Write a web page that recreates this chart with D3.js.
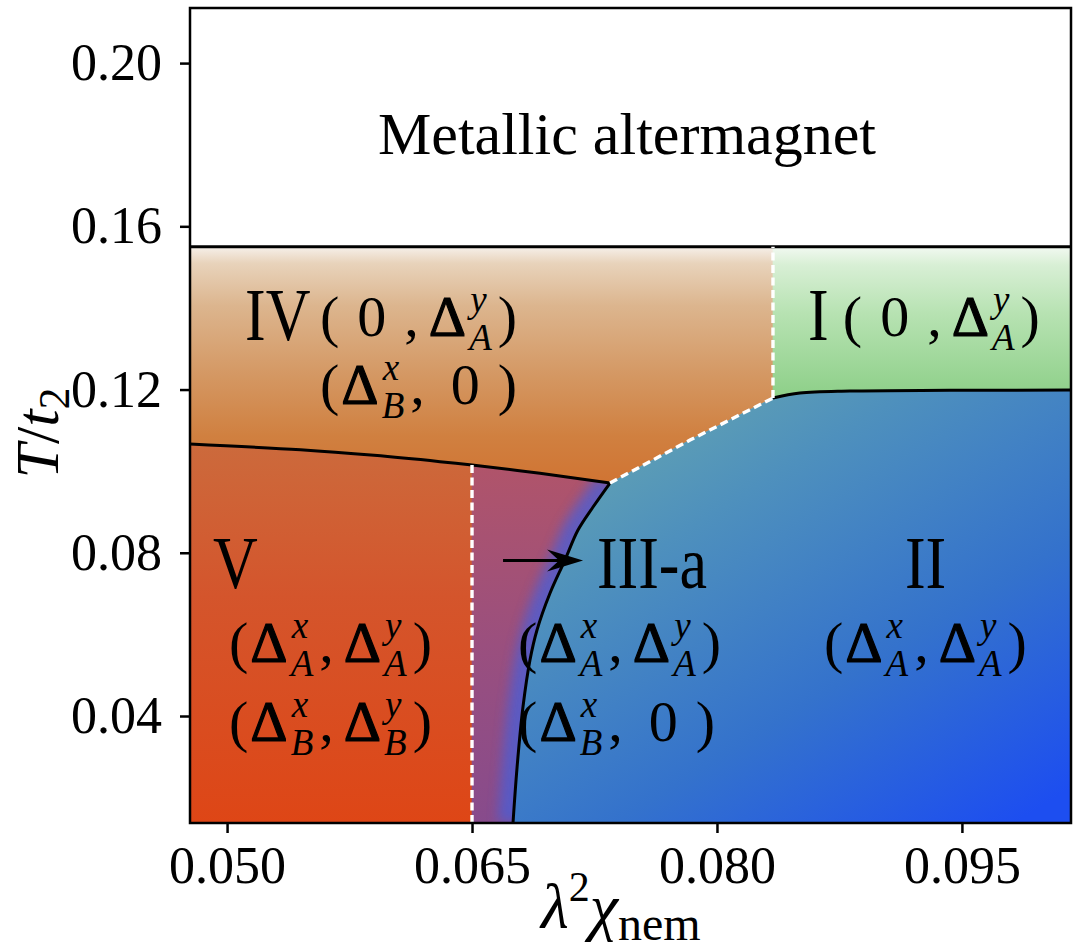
<!DOCTYPE html>
<html>
<head>
<meta charset="utf-8">
<script src="https://cdn.jsdelivr.net/npm/d3@7"></script>
<style>
  html, body { margin: 0; padding: 0; background: #fff; }
  svg { display: block; }
</style>
</head>
<body>
<div id="chart"></div>
<script>
/* ---- data ---- */
var xDomain = [0.04773, 0.10168];
var yDomain = [0.01378, 0.2135];
var xTicks = [0.050, 0.065, 0.080, 0.095];
var yTicks = [0.04, 0.08, 0.12, 0.16, 0.20];

// transition into the metallic altermagnet
var tcMetal = 0.155;
// IV | (V, III-a) boundary
var nemX = [0.04773, 0.0545, 0.0590, 0.06304, 0.065, 0.06916, 0.07345];
var nemT = [0.10665, 0.10524, 0.10387, 0.10233, 0.10149, 0.09948, 0.09709];
// III-a | II boundary
var curveX = [0.07345, 0.07241, 0.07149, 0.07069, 0.06978, 0.06898, 0.06855, 0.06812, 0.06776, 0.06751];
var curveT = [0.09709, 0.09121, 0.08557, 0.07822, 0.07014, 0.06107, 0.05372, 0.04220, 0.02750, 0.01378];
// IV | II boundary (dashed)
var diagX = [0.07345, 0.07835, 0.08343];
var diagT = [0.09709, 0.10762, 0.11792];
// I | II boundary
var upperX = [0.08343, 0.08508, 0.08814, 0.09427, 0.10168];
var upperT = [0.11792, 0.11915, 0.11963, 0.11980, 0.11988];
// vertical dashed boundaries
var splitV = 0.065;
var splitI = 0.08343;

var arrowFrom = [0.06690, 0.07810];
var arrowTo = [0.07180, 0.07810];

var topLabel = { x: 0.07449, T: 0.1777, text: 'Metallic altermagnet' };

var phaseLabels = [
  { x: 0.05110, T: 0.13213, text: 'IV' },
  { x: 0.05569, T: 0.13311, math: ['(', ' ', '0', ' ', ',', 'Δ', ['y', 'A'], ')'] },
  { x: 0.05569, T: 0.11645, math: ['(', 'Δ', ['x', 'B'], ',', ' ', '0', ' ', ')'] },
  { x: 0.08557, T: 0.13213, text: 'I' },
  { x: 0.08771, T: 0.13311, math: ['(', ' ', '0', ' ', ',', 'Δ', ['y', 'A'], ')'] },
  { x: 0.04914, T: 0.07136, text: 'V' },
  { x: 0.05012, T: 0.05323, math: ['(', 'Δ', ['x', 'A'], ',', 'Δ', ['y', 'A'], ')'] },
  { x: 0.05012, T: 0.03387, math: ['(', 'Δ', ['x', 'B'], ',', 'Δ', ['y', 'B'], ')'] },
  { x: 0.07265, T: 0.07136, text: 'III-a' },
  { x: 0.06782, T: 0.05323, math: ['(', 'Δ', ['x', 'A'], ',', 'Δ', ['y', 'A'], ')'] },
  { x: 0.06782, T: 0.03387, math: ['(', 'Δ', ['x', 'B'], ',', ' ', '0', ' ', ')'] },
  { x: 0.09151, T: 0.07136, text: 'II' },
  { x: 0.08655, T: 0.05323, math: ['(', 'Δ', ['x', 'A'], ',', 'Δ', ['y', 'A'], ')'] }
];

/* ---- layout / styling ---- */
var W = 1080, H = 949;
var FONT = '"Liberation Serif", "Times New Roman", serif';
var plot = { left: 190, right: 1071, top: 8, bottom: 823 };

var x = d3.scaleLinear().domain(xDomain).range([plot.left, plot.right]);
var y = d3.scaleLinear().domain(yDomain).range([plot.bottom, plot.top]);

var svg = d3.select('#chart').append('svg')
  .attr('width', W).attr('height', H)
  .attr('viewBox', '0 0 ' + W + ' ' + H);

var defs = svg.append('defs');

function addGrad(id, stops, x1, y1, x2, y2) {
  var g = defs.append('linearGradient').attr('id', id)
    .attr('x1', x1).attr('y1', y1).attr('x2', x2).attr('y2', y2);
  stops.forEach(function(s) {
    g.append('stop').attr('offset', s[0]).attr('stop-color', s[1]);
  });
}
addGrad('gIV', [[0, '#f6f0ea'], [0.07, '#e8d3bb'], [0.25, '#dcb58e'], [0.55, '#d49762'], [0.8, '#d08040'], [1, '#d07433']], 0, 0, 0, 1);
addGrad('gI', [[0, '#f2f9f1'], [0.12, '#d8efd5'], [0.45, '#b6e2b1'], [1, '#8dcf88']], 0, 0, 0, 1);
addGrad('gV', [[0, '#cc6a3c'], [0.4, '#d4552c'], [1, '#de4616']], 0, 0, 0, 1);
addGrad('gIII', [[0, '#b0546a'], [0.5, '#9a4f7e'], [1, '#874b8c']], 0, 0, 0, 1);
addGrad('gII', [[0, '#6aaaae'], [0.3, '#4e90bd'], [0.65, '#3472cc'], [1, '#1d4ef0']], 0.1, 0, 0.9, 1);

defs.append('filter').attr('id', 'blur')
  .attr('x', '-50%').attr('y', '-50%').attr('width', '200%').attr('height', '200%')
  .append('feGaussianBlur').attr('stdDeviation', 6);

function zip(xs, ts) { return xs.map(function(v, i) { return [v, ts[i]]; }); }
var nem = zip(nemX, nemT);
var iSplit = nemX.indexOf(splitV);
var nemLeft = nem.slice(0, iSplit + 1), nemRight = nem.slice(iSplit);
var curve = zip(curveX, curveT);
var diag = zip(diagX, diagT);
var upper = zip(upperX, upperT);
var x0 = xDomain[0], x1 = xDomain[1], t0 = yDomain[0];

var smooth = d3.line().x(function(d) { return x(d[0]); }).y(function(d) { return y(d[1]); })
  .curve(d3.curveCatmullRom.alpha(0.5));
var straight = d3.line().x(function(d) { return x(d[0]); }).y(function(d) { return y(d[1]); });

// build a closed outline from several pieces, each smooth or straight
function outline(parts) {
  var d = '';
  parts.forEach(function(p, i) {
    var s;
    if (p.pts.length === 1) s = 'M' + x(p.pts[0][0]) + ',' + y(p.pts[0][1]);
    else s = (p.smooth ? smooth : straight)(p.pts);
    d += i === 0 ? s : s.replace(/^M/, 'L');
  });
  return d + 'Z';
}
function rev(a) { return a.slice().reverse(); }

var regions = [
  { fill: 'url(#gIV)', d: outline([
      { pts: [[x0, tcMetal], [splitI, tcMetal]] },
      { pts: rev(diag) },
      { pts: rev(nem), smooth: true }]) },
  { fill: 'url(#gI)', d: outline([
      { pts: [[splitI, tcMetal], [x1, tcMetal]] },
      { pts: rev(upper), smooth: true }]) },
  { fill: 'url(#gV)', d: outline([
      { pts: nemLeft, smooth: true },
      { pts: [[splitV, t0], [x0, t0]] }]) },
  { fill: 'url(#gIII)', d: outline([
      { pts: nemRight, smooth: true },
      { pts: curve, smooth: true },
      { pts: [[splitV, t0]] }]) },
  { fill: 'url(#gII)', d: outline([
      { pts: diag },
      { pts: upper, smooth: true },
      { pts: [[x1, t0]] },
      { pts: rev(curve), smooth: true }]) }
];

svg.selectAll('path.region').data(regions).enter().append('path')
  .attr('class', 'region')
  .attr('d', function(r) { return r.d; })
  .attr('fill', function(r) { return r.fill; })
  .attr('stroke', function(r) { return r.fill; })
  .attr('stroke-width', 0.6);

// blue tint of III-a next to the II boundary
defs.append('clipPath').attr('id', 'clipIII').append('path').attr('d', regions[3].d);
svg.append('g').attr('clip-path', 'url(#clipIII)')
  .append('path').attr('d', smooth(curve))
  .attr('fill', 'none').attr('stroke', '#4a5fd8').attr('stroke-width', 30)
  .attr('opacity', 0.75).attr('filter', 'url(#blur)');

// phase boundaries
var solid = [
  [[x0, tcMetal], [x1, tcMetal]],
  nem, curve, upper
];
svg.selectAll('path.solid').data(solid).enter().append('path')
  .attr('class', 'solid')
  .attr('d', function(p, i) { return i === 0 ? straight(p) : smooth(p); })
  .attr('fill', 'none').attr('stroke', '#000').attr('stroke-width', 3);

var dashed = [
  [[splitV, t0], [splitV, nemT[iSplit]]],
  diag,
  [[splitI, diagT[diagT.length - 1]], [splitI, tcMetal]]
];
svg.selectAll('path.dashed').data(dashed).enter().append('path')
  .attr('class', 'dashed')
  .attr('d', straight)
  .attr('fill', 'none').attr('stroke', '#fff').attr('stroke-width', 3.4)
  .attr('stroke-dasharray', '8,4.5');

// arrow pointing at III-a
var ax0 = x(arrowFrom[0]), ay = y(arrowFrom[1]), ax1 = x(arrowTo[0]);
svg.append('line')
  .attr('x1', ax0).attr('y1', ay).attr('x2', ax1 - 20).attr('y2', ay)
  .attr('stroke', '#000').attr('stroke-width', 3);
svg.append('path')
  .attr('d', 'M' + ax1 + ',' + ay + ' L' + (ax1 - 36) + ',' + (ay - 11) +
             ' L' + (ax1 - 24) + ',' + ay + ' L' + (ax1 - 36) + ',' + (ay + 11) + 'Z')
  .attr('fill', '#000');

// frame
svg.append('rect')
  .attr('x', plot.left).attr('y', plot.top)
  .attr('width', plot.right - plot.left).attr('height', plot.bottom - plot.top)
  .attr('fill', 'none').attr('stroke', '#000').attr('stroke-width', 2.5);

// axes
function styleAxis(g) {
  g.select('.domain').remove();
  g.attr('font-family', FONT).attr('font-size', 52);
  g.selectAll('line').attr('stroke', '#000').attr('stroke-width', 2.5);
  g.selectAll('text').attr('fill', '#000');
}
svg.append('g').attr('transform', 'translate(0,' + plot.bottom + ')')
  .call(d3.axisBottom(x).tickValues(xTicks).tickFormat(d3.format('.3f')).tickSize(10).tickPadding(13))
  .call(styleAxis);
svg.append('g').attr('transform', 'translate(' + plot.left + ',0)')
  .call(d3.axisLeft(y).tickValues(yTicks).tickFormat(d3.format('.2f')).tickSize(10).tickPadding(18))
  .call(styleAxis);

// axis titles
var xt = svg.append('text').attr('x', 541).attr('y', 928)
  .attr('font-family', FONT).attr('font-size', 64).attr('fill', '#000');
xt.append('tspan').attr('font-style', 'italic').text('λ');
xt.append('tspan').attr('font-size', 42).attr('dy', -27).text('2');
xt.append('tspan').attr('font-style', 'italic').attr('dy', 27).text('χ');
xt.append('tspan').attr('font-size', 48).attr('dy', 12).text('nem');

var yt = svg.append('text')
  .attr('transform', 'translate(58,433) rotate(-90)')
  .attr('text-anchor', 'middle')
  .attr('font-family', FONT).attr('font-size', 62).attr('fill', '#000');
yt.append('tspan').attr('font-style', 'italic').text('T');
yt.append('tspan').text('/');
yt.append('tspan').attr('font-style', 'italic').text('t');
yt.append('tspan').attr('font-size', 44).attr('dy', 11).text('2');

// region titles
svg.append('text')
  .attr('x', x(topLabel.x)).attr('y', y(topLabel.T))
  .attr('text-anchor', 'middle')
  .attr('font-family', FONT).attr('font-size', 60).attr('fill', '#000')
  .text(topLabel.text);

var MFS = 58, SFS = 37, SUP = -24, SUB = 14;
var probe = svg.append('text').attr('font-family', FONT).attr('x', -999).attr('y', -999);
function measure(s, size, italic) {
  probe.attr('font-size', size).attr('font-style', italic ? 'italic' : 'normal').text(s);
  return probe.node().getComputedTextLength();
}

// one math line = one text element; tspans placed with absolute x / y
function drawMath(g, toks) {
  var t = g.append('text').attr('font-family', FONT).attr('fill', '#000')
    .attr('font-size', MFS);
  var cx = 0, prev = null;
  function span(s, px, py, size, italic) {
    var sp = t.append('tspan').attr('x', px).attr('y', py).text(s);
    if (size !== MFS) sp.attr('font-size', size);
    if (italic) sp.attr('font-style', 'italic');
    return sp;
  }
  toks.forEach(function(tk) {
    if (prev === '(') cx += 2;
    else if (Array.isArray(prev)) cx += 6;
    else if (prev === ',') cx += 10;
    else if (prev === 'Δ' && Array.isArray(tk)) cx += 3;
    else if (prev !== null) cx += 2;
    if (tk === ' ') { cx += 14; prev = tk; return; }
    if (Array.isArray(tk)) {
      span(tk[0], cx + 1, SUP, SFS, true);
      span(tk[1], cx, SUB, SFS, true);
      cx += Math.max(measure(tk[0], SFS, true) + 1, measure(tk[1], SFS, true));
    } else {
      var sp = span(tk, cx, 0, MFS, false);
      if (tk === 'Δ') sp.attr('stroke', '#000').attr('stroke-width', 1.2);
      cx += measure(tk, MFS, false);
    }
    prev = tk;
  });
}

phaseLabels.forEach(function(l) {
  var g = svg.append('g').attr('transform', 'translate(' + x(l.x) + ',' + y(l.T) + ')');
  if (l.text) {
    g.append('text').attr('transform', 'scale(1,1.2)')
      .attr('font-family', FONT).attr('font-size', 62).attr('fill', '#000')
      .text(l.text);
  } else {
    drawMath(g, l.math);
  }
});
probe.remove();
</script>
</body>
</html>
